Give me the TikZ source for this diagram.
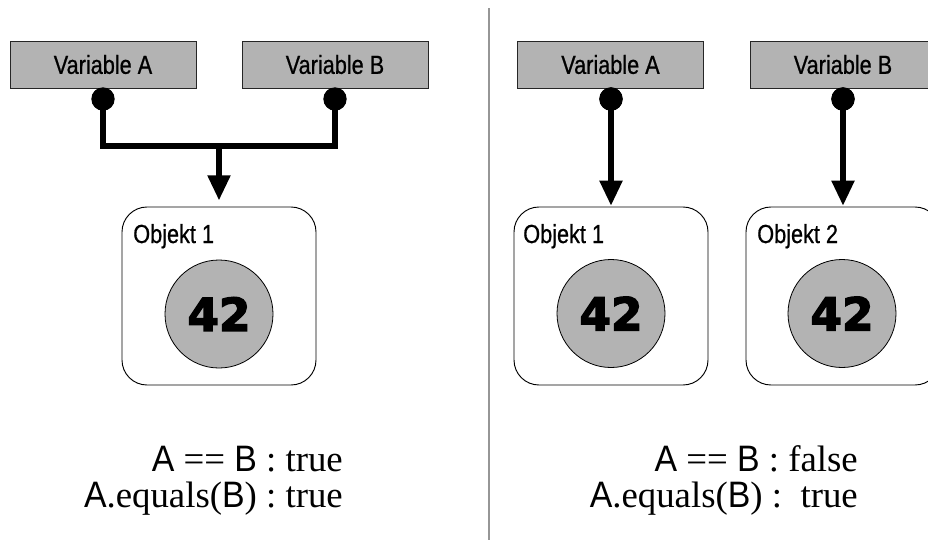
\documentclass[tikz,border=0pt]{standalone}
\usepackage{fontspec}
\setmainfont{Liberation Serif}
\newfontfamily\labfont[FakeStretch=0.83,FakeBold=0.7]{Liberation Sans}
\newfontfamily\letterfont[FakeStretch=0.92]{Liberation Sans}
\newfontfamily\numfont[FakeBold=3]{DejaVu Sans Bold}
\usetikzlibrary{arrows.meta}

\definecolor{boxgray}{RGB}{179,179,179}
\definecolor{divgray}{RGB}{150,150,150}

\newcommand{\VA}{{\letterfont A}}
\newcommand{\VB}{{\letterfont B}}

\tikzset{
  varbox/.style={draw=black!85, line width=0.7pt, fill=boxgray,
    minimum width=139.5pt, minimum height=35.25pt, inner sep=0pt, outer sep=0pt,
    font=\labfont\fontsize{19.6}{22}\selectfont},
  objbox/.style={draw=black, line width=0.7pt, fill=white, rounded corners=18.75pt,
    minimum width=145.5pt, minimum height=133.5pt, inner sep=0pt, outer sep=0pt},
  objlabel/.style={anchor=base west, inner sep=0pt,
    font=\labfont\fontsize{19.6}{22}\selectfont},
  valcircle/.style={circle, draw=black, line width=0.6pt, fill=boxgray,
    minimum size=81pt, inner sep=0pt,
    font=\numfont\fontsize{34}{40}\selectfont},
  refdot/.style={circle, fill=black, minimum size=17.5pt, inner sep=0pt, outer sep=0pt},
  conn/.style={line width=3.9pt, line join=miter},
  refarrow/.style={conn, -{Triangle[length=18.75pt,width=16.5pt]}},
  cmptext/.style={anchor=base east, inner sep=0pt, font=\fontsize{27.6}{30}\selectfont}
}

\begin{document}
\begin{tikzpicture}[x=0.75pt,y=-0.75pt]
  \clip (0,0) rectangle (928,546);
  \fill[white] (0,0) rectangle (928,546);

  % separator between the two cases
  \draw[divgray, line width=0.8pt] (489,8) -- (489,540);

  % ---------- left: two references to one object ----------
  \node[varbox] (lA) at (103,64.5) {Variable A};
  \node[varbox] (lB) at (335,64.5) {Variable B};
  \node[objbox] (lo1) at (219,296) {};
  \node[objlabel] (lo1t) at (133,243) {Objekt 1};
  \node[valcircle] (lv1) at (219,314) {42};
  \coordinate (lj) at (219,146);

  \draw[conn] (103,99) |- (lj) -| (335,99);
  \draw[refarrow, shorten >=5pt] (lj) -- (lo1.north);
  \node[refdot] (ldA) at (103,99) {};
  \node[refdot] (ldB) at (335,99) {};

  \node[cmptext] (lt1) at (343,471) {\VA{} == \VB{} : true};
  \node[cmptext] (lt2) at (343,507) {\VA.equals(\VB) : true};

  % ---------- right: two references to two equal objects ----------
  \node[varbox] (rA) at (610.5,64.5) {Variable A};
  \node[varbox] (rB) at (843,64.5) {Variable B};
  \node[objbox] (ro1) at (611,296) {};
  \node[objbox] (ro2) at (843,296) {};
  \node[objlabel] (ro1t) at (523,243) {Objekt 1};
  \node[objlabel] (ro2t) at (757,243) {Objekt 2};
  \node[valcircle] (rv1) at (611,313.5) {42};
  \node[valcircle] (rv2) at (842,313.5) {42};

  \node[refdot] (rdA) at (611,99) {};
  \node[refdot] (rdB) at (843,99) {};
  \draw[refarrow, shorten >=1pt] (rdA.center) -- (ro1.north);
  \draw[refarrow, shorten >=1pt] (rdB.center) -- (ro2.north);
  \node[refdot] at (rdA) {};
  \node[refdot] at (rdB) {};

  \node[cmptext] (rt1) at (858,471) {\VA{} == \VB{} : false};
  \node[cmptext] (rt2) at (858,507) {\VA.equals(\VB) :\ \ true};
\end{tikzpicture}
\end{document}
